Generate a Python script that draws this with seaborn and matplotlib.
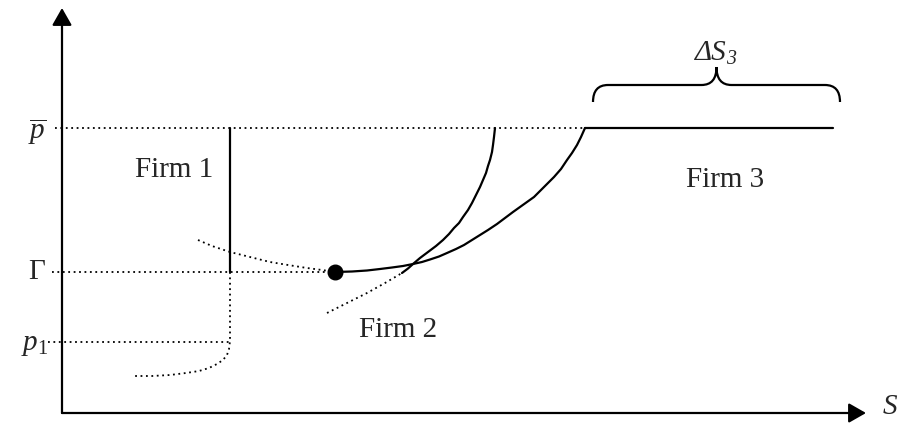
import matplotlib
matplotlib.use("Agg")
import matplotlib.pyplot as plt
import seaborn as sns
from matplotlib.path import Path
from matplotlib.patches import PathPatch

# price levels
p_bar = 285
gamma = 141
p_1 = 71

# firm 1: vertical supply at s1, dotted cost curves
s1 = 168
firm1_upper_s = [136, 150, 168, 188, 208, 226, 245, 260, 273]
firm1_upper_p = [173, 167, 161, 156, 151, 148, 145, 143, 141]
firm1_lower_s = [168, 168, 168, 167, 165, 161, 155, 147, 137, 124, 108, 90, 73]
firm1_lower_p = [141, 100, 72, 64, 58, 53, 49, 45, 42, 40, 38, 37, 37]

# firm 2 curve starting at the dot
dot_s, dot_p = 273, 141
curve_a_s = [273, 290, 305, 318, 330, 341, 351, 360, 368, 377, 385, 394, 402, 410,
             418, 426, 435, 443, 451, 458, 465, 472, 478, 485, 492, 499, 505, 510, 515, 519, 523]
curve_a_p = [141, 141.5, 142.5, 144, 145.5, 147, 149, 151, 153.5, 156.5, 160, 164, 168, 173,
             178, 183, 189, 195, 201, 206, 211, 216, 222, 229, 236, 244, 253, 260, 268, 276, 285]

# steeper curve, dotted at the bottom
curve_b_dot_s = [265, 285, 305, 323, 340]
curve_b_dot_p = [100, 110, 120, 130, 140]
curve_b_s = [340, 346, 351, 358, 366, 374, 381, 387, 392, 397, 401, 406, 410, 414,
             418, 421, 424, 426, 428, 430, 431, 432, 433]
curve_b_p = [140, 144.5, 149, 155, 161, 167, 173, 179, 185, 190, 196, 203, 210, 218,
             226, 233, 240, 247, 253, 261, 268, 276, 285]

# firm 3 flat segment
firm3_s = [523, 771]

# brace span over firm 3
brace_s = [531, 778]

sns.set_style("white")
plt.rcParams["font.family"] = ["Liberation Serif", "DejaVu Serif"]
plt.rcParams["mathtext.fontset"] = "custom"
plt.rcParams["mathtext.rm"] = "Liberation Serif"
plt.rcParams["mathtext.it"] = "Liberation Serif:italic"

fig = plt.figure(figsize=(9.01, 4.25), dpi=100)
ax = fig.add_axes([0, 0, 1, 1])
ax.set_xlim(-62, 839)
ax.set_ylim(-12, 413)
ax.axis("off")

solid = dict(color="black", lw=1.6, estimator=None, sort=False, ax=ax)
dotted = dict(color="black", lw=1.3, ls=(0, (1, 2)), estimator=None, sort=False, ax=ax)

# axes with arrows
arrow = dict(arrowstyle="-|>,head_length=0.7,head_width=0.4", mutation_scale=15,
             color="black", lw=1.6, shrinkA=0, shrinkB=0)
ax.annotate("", xy=(0, 405), xytext=(0, 0), arrowprops=arrow)
ax.annotate("", xy=(804, 0), xytext=(0, 0), arrowprops=arrow)

# dotted price guides
sns.lineplot(x=[-7, firm3_s[0]], y=[p_bar, p_bar], **dotted)
sns.lineplot(x=[-10, dot_s], y=[gamma, gamma], **dotted)
sns.lineplot(x=[-14, s1], y=[p_1, p_1], **dotted)

# firm 1
sns.lineplot(x=[s1, s1], y=[gamma, p_bar], **solid)
sns.lineplot(x=firm1_upper_s, y=firm1_upper_p, **dotted)
sns.lineplot(x=firm1_lower_s, y=firm1_lower_p, **dotted)

# firm 2 and the steeper curve
sns.lineplot(x=curve_a_s, y=curve_a_p, **solid)
sns.lineplot(x=curve_b_dot_s, y=curve_b_dot_p, **dotted)
sns.lineplot(x=curve_b_s, y=curve_b_p, **solid)
ax.plot([dot_s], [dot_p], "o", color="black", ms=10.5, zorder=5)

# firm 3
sns.lineplot(x=firm3_s, y=[p_bar, p_bar], **solid)

# brace
x0, x1 = brace_s
xm = (x0 + x1) / 2
yb, ym, yt = 311, 328, 346
verts = [(x0, yb), (x0, ym), (x0 + 15, ym), (xm - 15, ym), (xm, ym), (xm, yt),
         (xm, yt), (xm, ym), (xm + 15, ym), (x1 - 15, ym), (x1, ym), (x1, yb)]
codes = [Path.MOVETO, Path.CURVE3, Path.CURVE3, Path.LINETO, Path.CURVE3, Path.CURVE3,
         Path.MOVETO, Path.CURVE3, Path.CURVE3, Path.LINETO, Path.CURVE3, Path.CURVE3]
ax.add_patch(PathPatch(Path(verts, codes), fill=False, lw=1.6, color="black"))

# labels
fs = 21
ax.text(-25, p_bar - 4, r"$\overline{\mathit{p}}$", fontsize=fs, ha="center", va="center")
ax.text(-25, gamma, "Γ", fontsize=fs, ha="center", va="center")
ax.text(-27, p_1 - 3, r"$\mathit{p}_{\mathit{1}}$", fontsize=fs, ha="center", va="center")
ax.text(112, 243, "Firm 1", fontsize=fs, ha="center", va="center")
ax.text(336, 83, "Firm 2", fontsize=fs, ha="center", va="center")
ax.text(663, 233, "Firm 3", fontsize=fs, ha="center", va="center")
ax.text(665, 353, "ΔS", fontsize=fs, style="italic", ha="right", va="baseline")
ax.text(664, 349, "3", fontsize=fs * 0.68, style="italic", ha="left", va="baseline")
ax.text(828, 6, "S", fontsize=fs, style="italic", ha="center", va="center")

fig.savefig("out.png", dpi=100)
